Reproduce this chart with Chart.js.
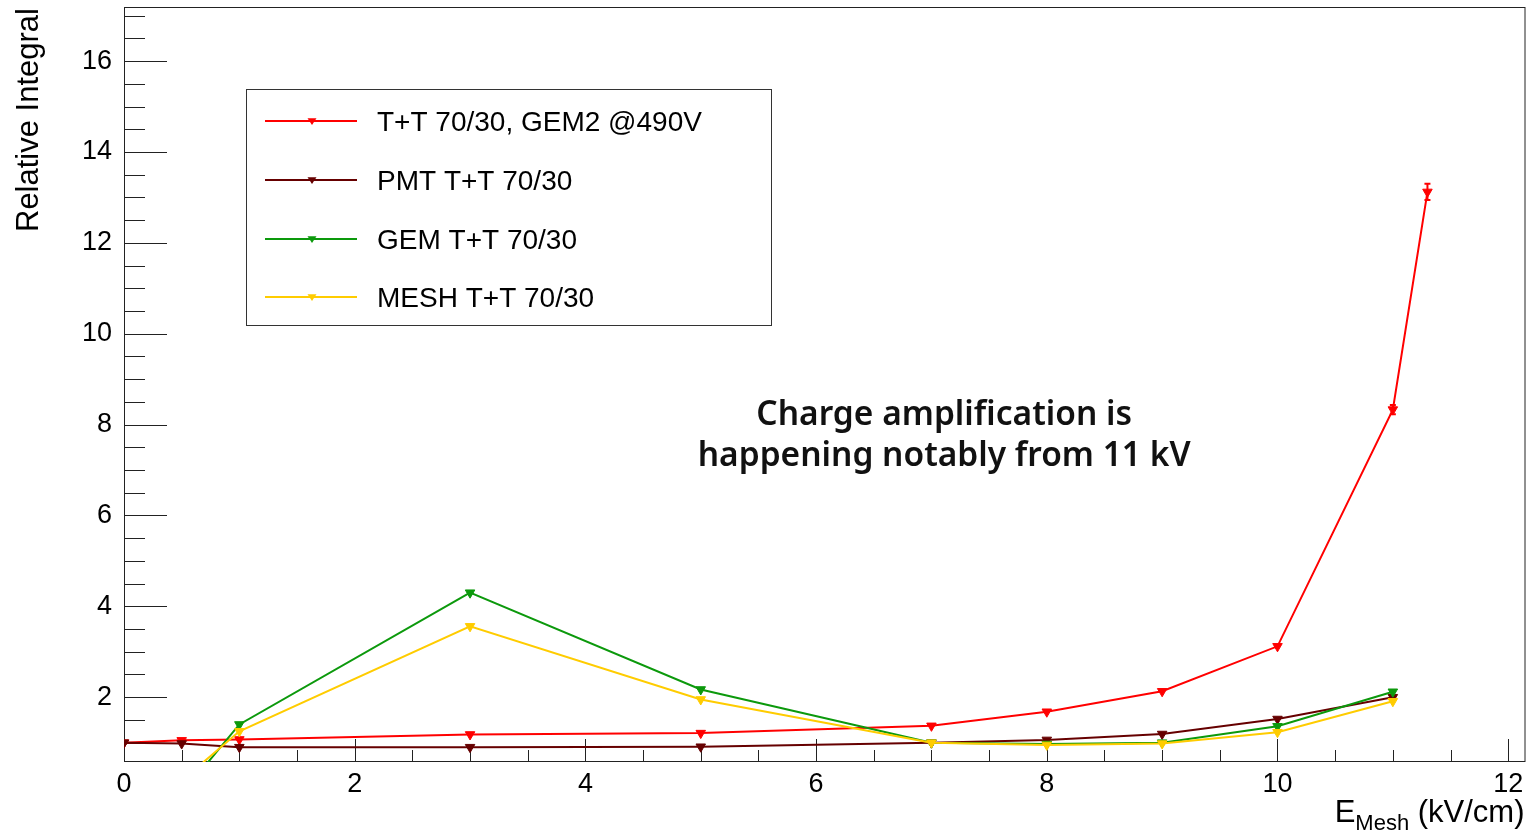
<!DOCTYPE html>
<html>
<head>
<meta charset="utf-8">
<script src="https://cdn.jsdelivr.net/npm/chart.js@4.4.1/dist/chart.umd.min.js"></script>
<style>
  html, body { margin: 0; padding: 0; background: #fff; }
  #wrap { width: 1532px; height: 834px; position: relative; }
</style>
</head>
<body>
<div id="wrap"><canvas id="chart"></canvas></div>
<script>
// series (x in kV/cm, y relative integral)
const seriesLabels = ['T+T 70/30, GEM2 @490V', 'PMT T+T 70/30', 'GEM T+T 70/30', 'MESH T+T 70/30'];
const seriesColors = ['#ff0000', '#660000', '#0c990c', '#ffcc00'];

const redX = [0, 0.5, 1, 3, 5, 7, 8, 9, 10, 11, 11.3];
const redY = [1.0, 1.05, 1.07, 1.18, 1.21, 1.37, 1.68, 2.13, 3.12, 8.33, 13.12];
const redErr = [0, 0, 0, 0, 0, 0, 0, 0, 0, 0.1, 0.18];

const pmtX = [0, 0.5, 1, 3, 5, 7, 8, 9, 10, 11];
const pmtY = [1.0, 0.98, 0.9, 0.9, 0.91, 1.0, 1.06, 1.19, 1.52, 2.0];

const gemX = [0.5, 1, 3, 5, 7, 8, 9, 10, 11];
const gemY = [-0.13, 1.4, 4.3, 2.17, 1.0, 0.97, 1.0, 1.36, 2.12];

const meshX = [0.5, 1, 3, 5, 7, 8, 9, 10, 11];
const meshY = [0.16, 1.25, 3.56, 1.95, 1.0, 0.95, 0.98, 1.23, 1.91];

const xTickValues = [0, 2, 4, 6, 8, 10, 12];
const yTickValues = [2, 4, 6, 8, 10, 12, 14, 16];

const noteLines = ['Charge amplification is', 'happening notably from 11 kV'];

const FONT = '"Liberation Sans", Arial, sans-serif';

function pts(xs, ys) {
  return xs.map((x, i) => ({x, y: ys[i]}));
}

function makeSet(i, xs, ys, order) {
  return {
    label: seriesLabels[i],
    data: pts(xs, ys),
    showLine: true,
    borderColor: seriesColors[i],
    backgroundColor: seriesColors[i],
    borderWidth: 2,
    pointStyle: 'triangle',
    rotation: 180,
    pointRadius: 5.5,
    pointBorderWidth: 1,
    order,
  };
}

function downTriangle(ctx, cx, cy, r, color) {
  ctx.fillStyle = color;
  ctx.beginPath();
  ctx.moveTo(cx - r, cy - r * 0.6);
  ctx.lineTo(cx + r, cy - r * 0.6);
  ctx.lineTo(cx, cy + r * 0.9);
  ctx.closePath();
  ctx.fill();
}

const rootStyle = {
  id: 'rootStyle',
  beforeDatasetsDraw(chart) {
    const {ctx, chartArea: a, scales: {x, y}} = chart;
    ctx.save();
    ctx.strokeStyle = '#222';
    ctx.lineWidth = 1;
    ctx.strokeRect(a.left + 0.5, a.top + 0.5, a.width - 1, a.height - 1);
    ctx.beginPath();
    for (let v = 0; v <= x.max + 1e-9; v += 0.5) {
      const px = Math.round(x.getPixelForValue(v)) + 0.5;
      const len = Math.abs(v % 2) < 1e-9 ? 23 : 12;
      ctx.moveTo(px, a.bottom);
      ctx.lineTo(px, a.bottom - len);
    }
    for (let v = Math.ceil(y.min / 0.5) * 0.5; v <= y.max; v += 0.5) {
      const py = Math.round(y.getPixelForValue(v)) + 0.5;
      const len = Math.abs(v % 2) < 1e-9 ? 43 : 21;
      ctx.moveTo(a.left, py);
      ctx.lineTo(a.left + len, py);
    }
    ctx.stroke();
    ctx.restore();
  },
  afterDatasetsDraw(chart) {
    const {ctx, scales: {x, y}} = chart;
    ctx.save();
    ctx.strokeStyle = seriesColors[0];
    ctx.lineWidth = 2;
    redX.forEach((xv, i) => {
      if (!redErr[i]) return;
      const px = x.getPixelForValue(xv);
      const y1 = y.getPixelForValue(redY[i] - redErr[i]);
      const y2 = y.getPixelForValue(redY[i] + redErr[i]);
      ctx.beginPath();
      ctx.moveTo(px, y1); ctx.lineTo(px, y2);
      ctx.moveTo(px - 3, y1); ctx.lineTo(px + 3, y1);
      ctx.moveTo(px - 3, y2); ctx.lineTo(px + 3, y2);
      ctx.stroke();
    });
    ctx.restore();
  },
  afterDraw(chart) {
    const {ctx, chartArea: a, scales: {x, y}} = chart;
    ctx.save();

    // legend box
    const lx = 246, ly = 89, lw = 525, lh = 236;
    ctx.fillStyle = '#fff';
    ctx.fillRect(lx, ly, lw, lh);
    ctx.strokeStyle = '#333';
    ctx.lineWidth = 1;
    ctx.strokeRect(lx + 0.5, ly + 0.5, lw, lh);
    const rowY = [121, 180, 239, 297];
    ctx.font = '28px ' + FONT;
    ctx.textBaseline = 'middle';
    ctx.textAlign = 'left';
    seriesLabels.forEach((lab, i) => {
      const ry = rowY[i];
      ctx.strokeStyle = seriesColors[i];
      ctx.lineWidth = 2;
      ctx.beginPath();
      ctx.moveTo(265, ry); ctx.lineTo(357, ry);
      ctx.stroke();
      downTriangle(ctx, 312, ry, 4.5, seriesColors[i]);
      ctx.fillStyle = '#000';
      ctx.fillText(lab, 377, ry + 2);
    });

    // axis titles
    ctx.fillStyle = '#000';
    ctx.font = '31px ' + FONT;
    ctx.save();
    ctx.translate(38, a.top + 1);
    ctx.rotate(-Math.PI / 2);
    ctx.textAlign = 'right';
    ctx.textBaseline = 'alphabetic';
    ctx.fillText('Relative Integral', 0, 0);
    ctx.restore();

    ctx.textBaseline = 'alphabetic';
    ctx.textAlign = 'left';
    const base = 822;
    ctx.font = '31px ' + FONT;
    const wE = ctx.measureText('E').width;
    const wUnit = ctx.measureText(' (kV/cm)').width;
    ctx.font = '22px ' + FONT;
    const wSub = ctx.measureText('Mesh').width;
    let sx = a.right - 1 - wE - wSub - wUnit;
    ctx.font = '31px ' + FONT;
    ctx.fillText('E', sx, base);
    ctx.font = '22px ' + FONT;
    ctx.fillText('Mesh', sx + wE, base + 8);
    ctx.font = '31px ' + FONT;
    ctx.fillText(' (kV/cm)', sx + wE + wSub, base);

    // note
    ctx.font = '600 33.5px "Noto Sans", sans-serif';
    ctx.textAlign = 'center';
    ctx.textBaseline = 'middle';
    ctx.fillStyle = '#111';
    ctx.fillText(noteLines[0], x.getPixelForValue(7.11), y.getPixelForValue(8.21));
    ctx.fillText(noteLines[1], x.getPixelForValue(7.11), y.getPixelForValue(7.29));
    ctx.restore();
  }
};

new Chart(document.getElementById('chart'), {
  type: 'scatter',
  data: {
    datasets: [
      makeSet(0, redX, redY, 3),
      makeSet(1, pmtX, pmtY, 2),
      makeSet(2, gemX, gemY, 1),
      makeSet(3, meshX, meshY, 0),
    ]
  },
  options: {
    responsive: true,
    maintainAspectRatio: false,
    animation: false,
    layout: {padding: {top: 7, right: 4, left: 0, bottom: 0}},
    plugins: {legend: {display: false}, tooltip: {enabled: false}},
    scales: {
      x: {
        type: 'linear',
        min: 0,
        max: 12.15,
        afterFit: s => { s.height = 72; s.paddingLeft = 0; s.paddingRight = 0; },
        afterBuildTicks: s => { s.ticks = xTickValues.map(v => ({value: v})); },
        grid: {display: false, drawTicks: false},
        border: {display: false},
        ticks: {
          padding: 6,
          color: '#000',
          font: {family: FONT, size: 27},
          callback: v => String(v),
          maxRotation: 0,
          autoSkip: false,
        },
      },
      y: {
        type: 'linear',
        min: 0.574,
        max: 17.19,
        afterFit: s => { s.width = 124; s.paddingTop = 0; s.paddingBottom = 0; },
        afterBuildTicks: s => { s.ticks = yTickValues.map(v => ({value: v})); },
        grid: {display: false, drawTicks: false},
        border: {display: false},
        ticks: {
          padding: 12,
          color: '#000',
          font: {family: FONT, size: 27},
          callback: v => String(v),
          autoSkip: false,
        },
      },
    },
  },
  plugins: [rootStyle],
});
</script>
</body>
</html>
